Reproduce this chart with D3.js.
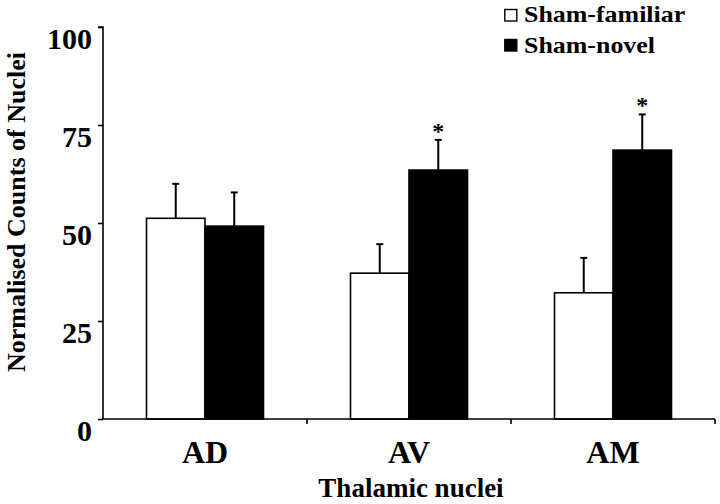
<!DOCTYPE html>
<html><head><meta charset="utf-8">
<script src="https://cdn.jsdelivr.net/npm/d3@7"></script>
<style>body{margin:0;background:#fff}svg{display:block}text{font-family:"Liberation Serif","Times New Roman",serif;font-weight:bold}</style>
</head><body><svg id="c" width="720" height="504"></svg>
<script>
const categories = ["AD", "AV", "AM"];
const seriesNames = ["Sham-familiar", "Sham-novel"];
const familiar = [51.2, 37.2, 32.2];
const familiarErr = [8.8, 7.4, 8.9];
const novel = [49.2, 63.5, 68.6];
const novelErr = [8.6, 7.7, 9.1];
const significant = [[false,false],[false,true],[false,true]];
const yTicks = [0, 25, 50, 75, 100];

const svg = d3.select("#c");
const mLeft = 103, mRight = 715, mTop = 27, mBottom = 419;
const x = d3.scaleBand().domain(categories).range([mLeft, mRight]).padding(0);
const y = d3.scaleLinear().domain([0, 100]).range([mBottom, mTop]);
const barW = 58.5;
const sub = d3.scaleBand().domain(seriesNames).range([-barW, barW]);

const data = categories.map((c, i) => ({
  cat: c,
  vals: [
    {s: seriesNames[0], v: familiar[i], e: familiarErr[i], sig: significant[i][0], fill: "#fff"},
    {s: seriesNames[1], v: novel[i], e: novelErr[i], sig: significant[i][1], fill: "#000"}
  ]
}));

const g = svg.selectAll("g.grp").data(data).enter().append("g")
  .attr("transform", d => `translate(${x(d.cat) + x.bandwidth()/2},0)`);

// error bars
g.selectAll("g.err").data(d => d.vals).enter().append("g").each(function(d) {
  const cx = sub(d.s) + sub.bandwidth()/2;
  const sel = d3.select(this);
  sel.append("line").attr("x1", cx).attr("x2", cx).attr("y1", y(d.v)).attr("y2", y(d.v + d.e))
    .attr("stroke", "#000").attr("stroke-width", 2);
  sel.append("line").attr("x1", cx - 3.5).attr("x2", cx + 3.5).attr("y1", y(d.v + d.e)).attr("y2", y(d.v + d.e))
    .attr("stroke", "#000").attr("stroke-width", 2);
  if (d.sig) sel.append("text").attr("x", cx).attr("y", y(d.v + d.e) - 1).attr("text-anchor", "middle")
    .attr("font-size", 24).text("*");
});

g.selectAll("rect").data(d => d.vals).enter().append("rect")
  .attr("x", d => sub(d.s)).attr("width", sub.bandwidth())
  .attr("y", d => y(d.v)).attr("height", d => y(0) - y(d.v))
  .attr("fill", d => d.fill).attr("stroke", "#000").attr("stroke-width", 1.6);

// y axis
const yAxis = svg.append("g").attr("transform", `translate(${mLeft},0)`)
  .call(d3.axisLeft(y).tickValues(yTicks).tickSize(5).tickPadding(10));
yAxis.select(".domain").attr("stroke-width", 1.6).attr("d", `M-5,${mTop}H0V${mBottom}`);
yAxis.selectAll(".tick line").attr("stroke-width", 1.6);
yAxis.selectAll(".tick text").attr("font-size", 30)
  .attr("dy", "0.7em").attr("x", -11).attr("fill", "#000");

// x axis
const xAxis = svg.append("g").attr("transform", `translate(0,${mBottom})`);
xAxis.append("line").attr("x1", mLeft).attr("x2", mRight).attr("y1", 0).attr("y2", 0).attr("stroke", "#000").attr("stroke-width", 1.6);
xAxis.selectAll("line.tk").data(categories).enter().append("line")
  .attr("x1", d => x(d) + x.bandwidth()).attr("x2", d => x(d) + x.bandwidth())
  .attr("y1", 0).attr("y2", 5).attr("stroke", "#000").attr("stroke-width", 1.6);
xAxis.selectAll("text").data(categories).enter().append("text")
  .attr("x", d => x(d) + x.bandwidth()/2).attr("y", 44).attr("text-anchor", "middle")
  .attr("font-size", 32).text(d => d);

svg.append("text").attr("x", (mLeft + mRight)/2 + 2).attr("y", 497).attr("text-anchor", "middle")
  .attr("font-size", 27).text("Thalamic nuclei");
svg.append("text").attr("transform", "translate(25,212) rotate(-90)").attr("text-anchor", "middle")
  .attr("font-size", 26).text("Normalised Counts of Nuclei");

// legend
const leg = svg.append("g").attr("transform", "translate(504,0)");
seriesNames.forEach((s, i) => {
  leg.append("rect").attr("x", 0.8).attr("y", 9.5 + i*30).attr("width", 12).attr("height", 11.5)
    .attr("fill", i ? "#000" : "#fff").attr("stroke", "#000").attr("stroke-width", 1.4);
  leg.append("text").attr("transform", `translate(20,${22 + i*31}) scale(1.08,1)`)
    .attr("font-size", 24).text(s);
});
</script></body></html>
